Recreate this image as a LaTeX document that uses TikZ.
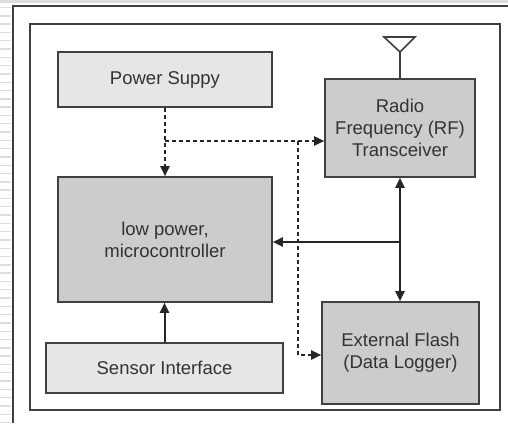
\documentclass[tikz,border=0pt]{standalone}
\usepackage{fontspec}
\setmainfont{Liberation Sans}
\usetikzlibrary{arrows.meta}
\definecolor{lightfill}{HTML}{E6E6E6}
\definecolor{darkfill}{HTML}{CCCCCC}
\definecolor{edge}{HTML}{404040}
\definecolor{txt}{HTML}{333333}
\definecolor{stripe}{HTML}{DDDDDD}
\begin{document}
\begin{tikzpicture}[x=1pt,y=-1pt,
  blockbox/.style={draw=edge,line width=1.6pt,rectangle,inner sep=0pt,align=center,
     text=txt,font=\fontsize{18.5}{22}\selectfont},
  lightbox/.style={blockbox,fill=lightfill},
  darkbox/.style={blockbox,fill=darkfill},
  solidarrow/.style={line width=2pt,draw=black!85,-{Triangle[length=10pt,width=9pt]}},
  bidir/.style={line width=2pt,draw=black!85,{Triangle[length=10pt,width=9pt]}-{Triangle[length=10pt,width=9pt]}},
  dasharrow/.style={line width=2pt,draw=black!85,dash pattern=on 4pt off 3pt,-{Triangle[length=10pt,width=9pt]}},
  dashline/.style={line width=2pt,draw=black!85,dash pattern=on 4pt off 3pt}
]
\useasboundingbox (0,0) rectangle (508,423);
\fill[white] (0,0) rectangle (508,423);
% slide background decorations
\fill[stripe] (0,0) rectangle (508,2.5);
\foreach \k in {0,...,50} {
  \draw[stripe,line width=1.4pt] (0,{7.5+8.3*\k}) -- (11,{7.5+8.3*\k});
}
\draw[edge,line width=2pt] (508,6) -- (13,6) -- (13,423);
% inner frame
\draw[edge,line width=2pt] (29.5,24) rectangle (500,410);

% blocks
\node[lightbox,minimum width=214pt,minimum height=55pt] (power) at (165,79.5) {Power Suppy};
\node[darkbox,minimum width=150pt,minimum height=98pt] (rf) at (400,128) {Radio\\Frequency (RF)\\Transceiver};
\node[darkbox,minimum width=214pt,minimum height=125pt] (micro) at (165,239.5) {low power,\\microcontroller};
\node[lightbox,minimum width=237pt,minimum height=50pt] (sensor) at (164.5,368) {Sensor Interface};
\node[darkbox,minimum width=157pt,minimum height=102pt] (flash) at (400.5,353) {External Flash\\(Data Logger)};

% antenna
\coordinate (anttip) at (400,52);
\draw[edge,line width=1.6pt] (rf.north) -- (anttip);
\draw[edge,line width=1.6pt,line join=miter] (anttip) -- (384,37) -- (415,37) -- cycle;

% junctions
\coordinate (j1) at (165,141);
\coordinate (j2) at (298,141);
\coordinate (j3) at (298,355);
\coordinate (j4) at (400,242);

% dashed power lines
\draw[dasharrow] (power.south) -- (micro.north);
\draw[dasharrow] (j1) -- (j1 -| rf.west);
\draw[dasharrow] (j2) |- (j3 -| flash.west);

% solid data lines
\draw[bidir] (rf.south) -- (rf.south |- flash.north);
\draw[solidarrow] (j4) -- (j4 -| micro.east);
\draw[solidarrow] (sensor.north) -- (sensor.north |- micro.south);
\end{tikzpicture}
\end{document}
